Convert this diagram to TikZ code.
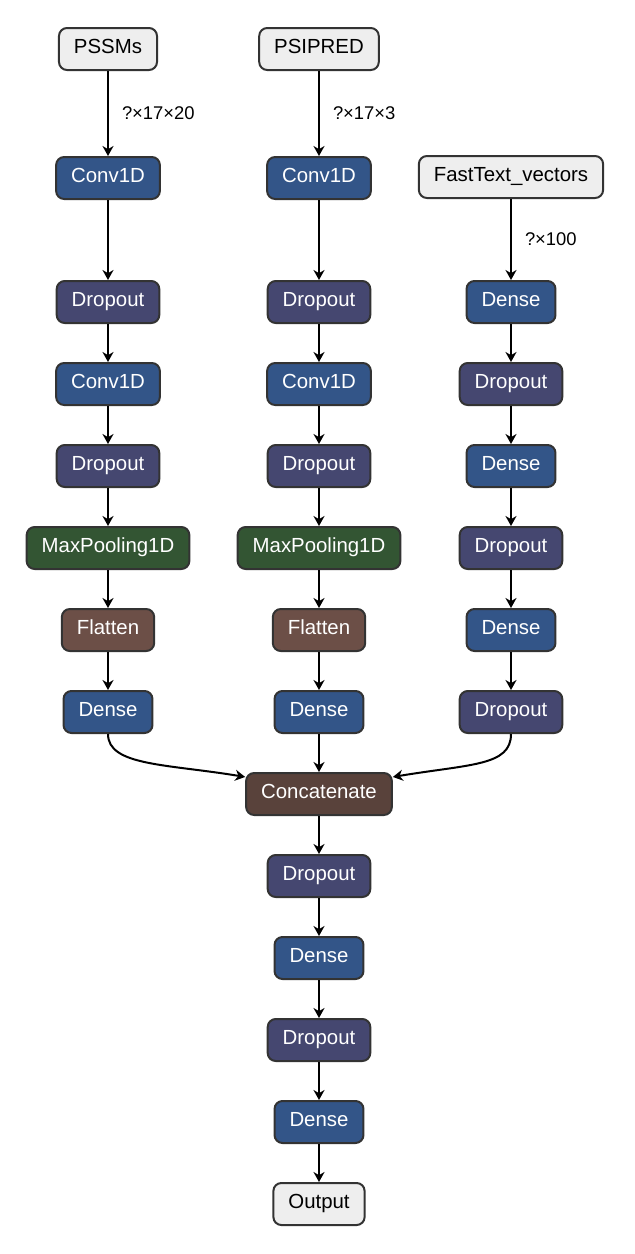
\documentclass[tikz,border=0pt]{standalone}
\usepackage{fontspec}
\setmainfont{Liberation Sans}
\usetikzlibrary{positioning,arrows.meta}
\definecolor{edg}{HTML}{333333}
\definecolor{inp}{HTML}{EEEEEE}
\definecolor{lay}{HTML}{335588}
\definecolor{drp}{HTML}{454770}
\definecolor{poolc}{HTML}{335533}
\definecolor{shpc}{HTML}{6C4F47}
\definecolor{tens}{HTML}{59423B}
\tikzset{
  >={Stealth[length=5pt,width=5.5pt,inset=1.6pt]},
  layer/.style={draw=edg, line width=1pt, rounded corners=4pt, fill=lay, text=white,
                minimum height=21pt, inner xsep=7.5pt, text height=7.2pt, text depth=2.6pt,
                font=\fontsize{10.2}{12}\selectfont},
  io/.style={layer, fill=inp, text=black},
  drop/.style={layer, fill=drp},
  pool/.style={layer, fill=poolc},
  flat/.style={layer, fill=shpc},
  merge/.style={layer, fill=tens},
  dim/.style={font=\fontsize{9.2}{11}\selectfont, right=6.5pt, inner sep=0pt, midway},
  l/.style={->, line width=1pt, draw=black},
}
\begin{document}
\begin{tikzpicture}[x=0.5pt, y=-0.5pt, node distance=19pt]
  \useasboundingbox (0,0) rectangle (634,1254);
  % inputs
  \node[io] (pssm) at (108,49) {PSSMs};
  \node[io] (psi) at (319,49) {PSIPRED};
  \node[io] (ft) at (511,177) {FastText\_vectors};
  % PSSM branch
  \node[layer,below=42.5pt of pssm] (cv1) {Conv1D};
  \node[drop,below=40pt of cv1] (dr1) {Dropout};
  \node[layer,below=of dr1] (cv1b) {Conv1D};
  \node[drop,below=of cv1b] (dr1b) {Dropout};
  \node[pool,below=of dr1b] (mp1) {MaxPooling1D};
  \node[flat,below=of mp1] (fl1) {Flatten};
  \node[layer,below=of fl1] (dn1) {Dense};
  % PSIPRED branch
  \node[layer,below=42.5pt of psi] (cv2) {Conv1D};
  \node[drop,below=40pt of cv2] (dr2) {Dropout};
  \node[layer,below=of dr2] (cv2b) {Conv1D};
  \node[drop,below=of cv2b] (dr2b) {Dropout};
  \node[pool,below=of dr2b] (mp2) {MaxPooling1D};
  \node[flat,below=of mp2] (fl2) {Flatten};
  \node[layer,below=of fl2] (dn2) {Dense};
  % FastText branch
  \node[layer,below=40.5pt of ft] (dn3) {Dense};
  \node[drop,below=of dn3] (dr3) {Dropout};
  \node[layer,below=of dr3] (dn3b) {Dense};
  \node[drop,below=of dn3b] (dr3b) {Dropout};
  \node[layer,below=of dr3b] (dn3c) {Dense};
  \node[drop,below=of dn3c] (dr3c) {Dropout};
  % head
  \node[merge,below=of dn2] (cat) {Concatenate};
  \node[drop,below=of cat] (dr4) {Dropout};
  \node[layer,below=of dr4] (dn4) {Dense};
  \node[drop,below=of dn4] (dr5) {Dropout};
  \node[layer,below=of dr5] (dn5) {Dense};
  \node[io,below=of dn5] (out) {Output};

  \draw[l](pssm)--(cv1) node[dim]{?×17×20};
  \draw[l](psi)--(cv2) node[dim]{?×17×3};
  \draw[l](ft)--(dn3) node[dim]{?×100};
  \draw[l](cv1)--(dr1);\draw[l](dr1)--(cv1b);\draw[l](cv1b)--(dr1b);\draw[l](dr1b)--(mp1);
  \draw[l](mp1)--(fl1);\draw[l](fl1)--(dn1);
  \draw[l](cv2)--(dr2);\draw[l](dr2)--(cv2b);\draw[l](cv2b)--(dr2b);\draw[l](dr2b)--(mp2);
  \draw[l](mp2)--(fl2);\draw[l](fl2)--(dn2);
  \draw[l](dn3)--(dr3);\draw[l](dr3)--(dn3b);\draw[l](dn3b)--(dr3b);\draw[l](dr3b)--(dn3c);
  \draw[l](dn3c)--(dr3c);
  \draw[l](dn1.south) .. controls +(0,32) and +(-78,-13) .. (cat.167);
  \draw[l](dn2)--(cat);
  \draw[l](dr3c.south) .. controls +(0,32) and +(78,-13) .. (cat.13);
  \draw[l](cat)--(dr4);\draw[l](dr4)--(dn4);\draw[l](dn4)--(dr5);\draw[l](dr5)--(dn5);
  \draw[l](dn5)--(out);
\end{tikzpicture}
\end{document}
